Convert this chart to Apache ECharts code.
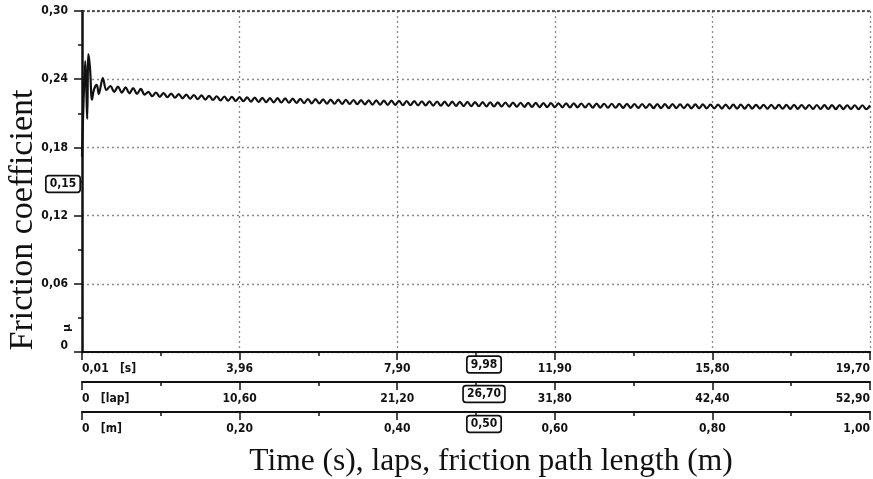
<!DOCTYPE html>
<html><head><meta charset="utf-8">
<script src="https://cdn.jsdelivr.net/npm/echarts@6/dist/echarts.min.js"></script>
<style>html,body{margin:0;padding:0;background:#fff}#c{width:873px;height:479px}</style>
</head><body><div id="c"></div>
<script>
// ---- tick labels ----
const timeTickLabels = ['0,01   [s]', '3,96', '7,90', '11,90', '15,80', '19,70'];
const lapTickLabels  = ['0   [lap]', '10,60', '21,20', '31,80', '42,40', '52,90'];
const pathTickLabels = ['0   [m]', '0,20', '0,40', '0,60', '0,80', '1,00'];
const timeMin = 0.01, timeMax = 19.70;
const muMin = 0, muMax = 0.30, muStep = 0.06;

// ---- cursor readouts ----
const cursorTime = 9.98;
const cursorLapText = '26,70';
const cursorPathText = '0,50';
const cursorTimeText = '9,98';
const cursorMu = 0.15;
const cursorMuText = '0,15';

// ---- friction trace: run-in transient (time s, mu) ----
const transientTimes = [0.01, 0.05, 0.09, 0.12, 0.14, 0.17, 0.21, 0.26, 0.31, 0.38, 0.43, 0.53, 0.62];
const transientMu    = [0.172, 0.222, 0.256, 0.228, 0.205, 0.262, 0.250, 0.222, 0.231, 0.235, 0.227, 0.241, 0.2305];

// ---- friction trace: steady oscillating part, sampled every steadyStep s from steadyStart ----
const steadyStart = 0.72, steadyStep = 0.0949;
const steadyMu = [
0.2340,0.2288,0.2335,0.2282,0.2328,0.2276,0.2322,0.2270,0.2316,0.2265,
0.2288,0.2250,0.2283,0.2245,0.2278,0.2241,0.2273,0.2237,0.2268,0.2232,
0.2265,0.2228,0.2261,0.2224,0.2258,0.2221,0.2254,0.2217,0.2250,0.2213,
0.2248,0.2211,0.2245,0.2208,0.2243,0.2206,0.2240,0.2203,0.2238,0.2200,
0.2236,0.2198,0.2234,0.2196,0.2233,0.2195,0.2231,0.2193,0.2229,0.2191,
0.2227,0.2190,0.2226,0.2188,0.2224,0.2187,0.2223,0.2185,0.2221,0.2184,
0.2220,0.2183,0.2219,0.2182,0.2217,0.2180,0.2216,0.2179,0.2214,0.2177,
0.2213,0.2176,0.2212,0.2175,0.2211,0.2174,0.2209,0.2172,0.2208,0.2171,
0.2207,0.2170,0.2206,0.2169,0.2205,0.2168,0.2204,0.2167,0.2203,0.2166,
0.2202,0.2165,0.2201,0.2164,0.2200,0.2163,0.2199,0.2162,0.2198,0.2161,
0.2197,0.2160,0.2196,0.2160,0.2195,0.2159,0.2194,0.2158,0.2193,0.2157,
0.2192,0.2156,0.2191,0.2155,0.2190,0.2155,0.2189,0.2154,0.2188,0.2153,
0.2188,0.2152,0.2187,0.2152,0.2186,0.2151,0.2186,0.2150,0.2185,0.2150,
0.2184,0.2149,0.2184,0.2149,0.2183,0.2148,0.2183,0.2148,0.2182,0.2147,
0.2182,0.2147,0.2181,0.2146,0.2181,0.2146,0.2180,0.2145,0.2180,0.2145,
0.2179,0.2145,0.2179,0.2144,0.2178,0.2144,0.2178,0.2143,0.2177,0.2143,
0.2177,0.2142,0.2177,0.2142,0.2176,0.2142,0.2176,0.2141,0.2176,0.2141,
0.2175,0.2141,0.2175,0.2140,0.2175,0.2140,0.2174,0.2140,0.2174,0.2139,
0.2174,0.2139,0.2173,0.2139,0.2173,0.2138,0.2173,0.2138,0.2172,0.2138,
0.2172,0.2137,0.2172,0.2137,0.2171,0.2137,0.2171,0.2136,0.2171,0.2136,
0.2170
];

const seriesData = [];
transientTimes.forEach((t, i) => seriesData.push([t, transientMu[i]]));
steadyMu.forEach((m, i) => seriesData.push([+(steadyStart + i * steadyStep).toFixed(4), m]));

const tickFont = { fontFamily: '"Liberation Sans Narrow", "DejaVu Sans Condensed", "Liberation Sans", sans-serif', fontWeight: 'bold', fontSize: 12, color: '#111' };
const gridLine = { show: true, lineStyle: { color: '#8a8a8a', type: [2, 3], width: 1.3 } };

function bottomAxis(labels, offset, withSplit) {
  return {
    type: 'value', gridIndex: 0, position: 'bottom', offset: offset,
    min: 0, max: 5, interval: 1,
    axisLine: { show: true, onZero: false, lineStyle: { color: '#111', width: 2 } },
    axisTick: { show: true, length: 8, lineStyle: { color: '#111', width: 1.5 } },
    minorTick: { show: true, splitNumber: 2, length: 4, lineStyle: { color: '#111', width: 1.5 } },
    splitLine: withSplit ? gridLine : { show: false },
    axisLabel: Object.assign({
      margin: 11,
      alignMinLabel: 'left', alignMaxLabel: 'right',
      formatter: v => labels[Math.round(v)]
    }, tickFont)
  };
}

const chart = echarts.init(document.getElementById('c'), null, { renderer: 'canvas' });
chart.setOption({
  animation: false,
  backgroundColor: '#fff',
  grid: { left: 82, right: 1, top: 11, bottom: 127, containLabel: false },
  xAxis: [
    bottomAxis(timeTickLabels, 0, true),
    bottomAxis(lapTickLabels, 30, false),
    bottomAxis(pathTickLabels, 60, false),
    { type: 'value', gridIndex: 0, min: timeMin, max: timeMax, show: false }
  ],
  yAxis: {
    type: 'value', min: muMin, max: muMax, interval: muStep,
    axisLine: { show: true, lineStyle: { color: '#111', width: 2.5 } },
    axisTick: { show: true, length: 8, lineStyle: { color: '#111', width: 1.5 } },
    minorTick: { show: true, splitNumber: 2, length: 4, lineStyle: { color: '#111', width: 1.5 } },
    splitLine: gridLine,
    axisLabel: Object.assign({
      margin: 14,
      verticalAlignMinLabel: 'bottom',
      formatter: v => v === 0 ? '0' : v.toFixed(2).replace('.', ',')
    }, tickFont)
  },
  series: [{
    type: 'line', xAxisIndex: 3, yAxisIndex: 0,
    data: seriesData, showSymbol: false, smooth: 0.35,
    lineStyle: { color: '#111', width: 2.2 }
  }]
});

const cx = chart.convertToPixel({ xAxisIndex: 3 }, cursorTime);
const y0 = chart.convertToPixel({ yAxisIndex: 0 }, 0);
const yTop = chart.convertToPixel({ yAxisIndex: 0 }, muMax);
const yMu = chart.convertToPixel({ yAxisIndex: 0 }, cursorMu);
const xAxisPx = chart.convertToPixel({ xAxisIndex: 0 }, 0);
const xEndPx = chart.convertToPixel({ xAxisIndex: 0 }, 5);
const boxStyle = (txt) => ({
  text: txt, fill: '#111', font: 'bold 12px "Liberation Sans Narrow", "DejaVu Sans Condensed", sans-serif',
  align: 'center', verticalAlign: 'middle',
  backgroundColor: '#fff', borderColor: '#111', borderWidth: 1.7, borderRadius: 2,
  padding: [2, 3, 1, 3]
});
chart.setOption({
  graphic: [
    { type: 'line', shape: { x1: xAxisPx, y1: yTop, x2: xEndPx + 1, y2: yTop },
      style: { stroke: '#333', lineWidth: 1.6, lineDash: [3, 2] }, z: 50 },
    { type: 'text', x: cx + 3, y: y0 + 12.5, style: boxStyle(cursorTimeText), z: 100 },
    { type: 'text', x: cx + 3, y: y0 + 42, style: boxStyle(cursorLapText), z: 100 },
    { type: 'text', x: cx + 3, y: y0 + 72, style: boxStyle(cursorPathText), z: 100 },
    { type: 'text', x: xAxisPx - 19, y: yMu + 2.5, style: boxStyle(cursorMuText), z: 100 },
    { type: 'text', x: xAxisPx - 15, y: y0 - 24, rotation: Math.PI / 2,
      style: { text: 'μ', fill: '#111', font: 'bold 11px "DejaVu Sans", sans-serif', align: 'center', verticalAlign: 'middle' } },
    { type: 'text', x: 491, y: 462,
      style: { text: 'Time (s), laps, friction path length (m)', fill: '#111', font: '31.5px "Liberation Serif", serif', align: 'center', verticalAlign: 'middle' } },
    { type: 'text', x: 23, y: 220, rotation: Math.PI / 2,
      style: { text: 'Friction coefficient', fill: '#111', font: '34px "Liberation Serif", serif', align: 'center', verticalAlign: 'middle' } }
  ]
});
</script>
</body></html>
